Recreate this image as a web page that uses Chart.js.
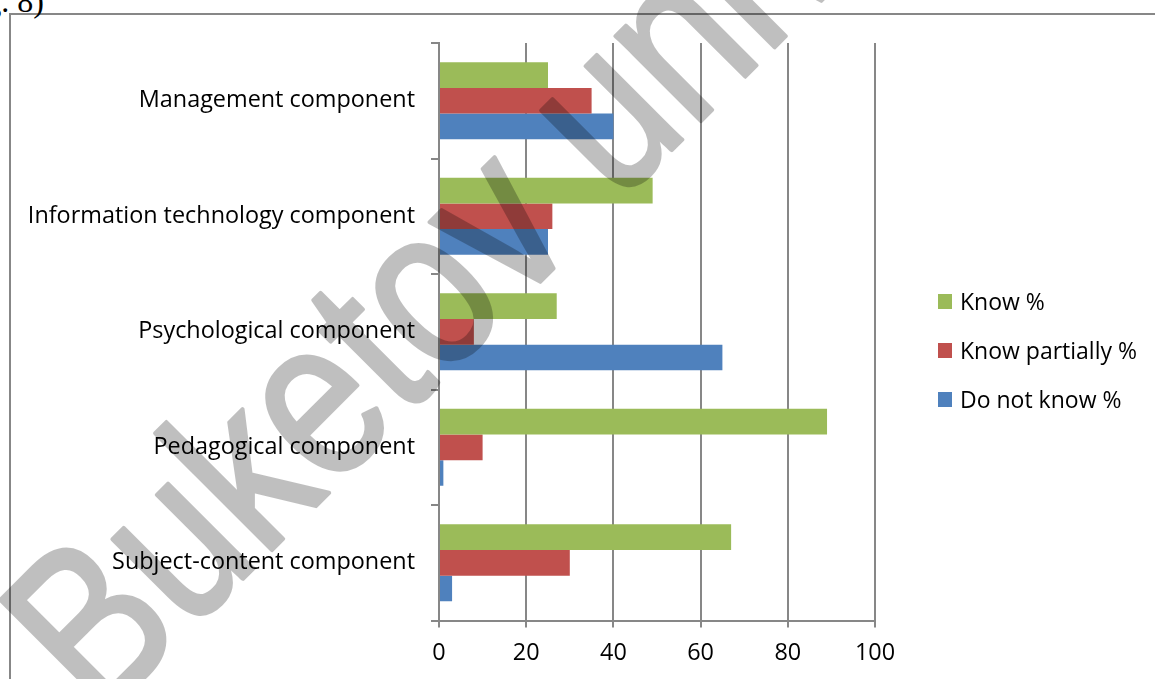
<!DOCTYPE html>
<html>
<head>
<meta charset="utf-8">
<script src="https://cdn.jsdelivr.net/npm/chart.js@4/dist/chart.umd.min.js"></script>
<style>
  html, body { margin: 0; padding: 0; background: #ffffff; overflow: hidden; }
  #page { position: relative; width: 1155px; height: 679px; overflow: hidden; }
  #frame { position: absolute; left: 9px; top: 13px; width: 1200px; height: 700px;
           border-left: 2px solid #878787; border-top: 2px solid #878787; }
  #caption { position: absolute; left: -200px; width: 244px; top: -15px; text-align: right;
             font-family: "Liberation Serif", serif; font-size: 32px; line-height: 32px; color: #000; }
  #chart { position: absolute; left: 0; top: 0; }
  #legend { position: absolute; left: 938px; top: 0; font-family: "Open Sans", sans-serif;
            font-size: 23px; color: #000; }
  .item { position: absolute; left: 0; white-space: nowrap; height: 30px; line-height: 30px; }
  .swatch { position: absolute; left: 0; top: 8px; width: 14px; height: 15px; }
  .name { position: absolute; left: 22px; top: 0; }
</style>
</head>
<body>
<div id="page">
  <div id="frame"></div>
  <div id="caption">(Fig. 8)</div>
  <canvas id="chart" width="1155" height="679"></canvas>
  <div id="legend"></div>
</div>
<script>
// Survey categories, listed top to bottom
const categories = [
  'Management component',
  'Information technology component',
  'Psychological component',
  'Pedagogical component',
  'Subject-content component'
];

// Share of respondents per answer, %
const knowPct = [25, 49, 27, 89, 67];
const knowPartiallyPct = [35, 26, 8, 10, 30];
const doNotKnowPct = [40, 25, 65, 1, 3];

const seriesNames = ['Know %', 'Know partially %', 'Do not know %'];
const seriesColors = ['#9BBB59', '#C0504D', '#4F81BD'];

const xTicks = [0, 20, 40, 60, 80, 100];

const axisGrey = '#878787';
const labelFont = { family: '"Open Sans", sans-serif', size: 23.4 };
const xLabelFont = { family: '"Open Sans", sans-serif', size: 23.4, lineHeight: 1.0 };

// Diagonal grey watermark painted over the finished chart.
// The glyphs are drawn solid on a scratch canvas, then laid on with one alpha
// so that the fill and the thickening stroke do not stack.
const watermark = {
  id: 'watermark',
  afterDraw(chart) {
    const off = document.createElement('canvas');
    off.width = chart.width;
    off.height = chart.height;
    const o = off.getContext('2d');
    o.translate(100, 722);
    o.rotate(-Math.PI / 4);
    o.scale(0.825, 1);
    o.font = '228px "Liberation Sans", sans-serif';
    o.fillStyle = '#000';
    o.strokeStyle = '#000';
    o.lineWidth = 4;
    o.lineJoin = 'round';
    o.textBaseline = 'alphabetic';
    o.fillText('Buketov university', 0, 0);
    o.strokeText('Buketov university', 0, 0);
    const ctx = chart.ctx;
    ctx.save();
    ctx.globalAlpha = 0.25;
    ctx.drawImage(off, 0, 0);
    ctx.restore();
  }
};

const values = [knowPct, knowPartiallyPct, doNotKnowPct];

const chart = new Chart(document.getElementById('chart'), {
  type: 'bar',
  data: {
    labels: categories,
    datasets: seriesNames.map((name, i) => ({
      label: name,
      data: values[i],
      backgroundColor: seriesColors[i],
      borderWidth: 0,
      categoryPercentage: 0.667,
      barPercentage: 1.0
    }))
  },
  options: {
    indexAxis: 'y',
    responsive: false,
    animation: false,
    layout: { padding: { left: 0, top: 43, right: 280, bottom: 0 } },
    plugins: {
      legend: { display: false },
      tooltip: { enabled: false }
    },
    scales: {
      x: {
        min: 0,
        max: 100,
        afterBuildTicks(scale) { scale.ticks = xTicks.map(v => ({ value: v })); },
        grid: { color: axisGrey, lineWidth: 2, tickLength: 7, drawTicks: true },
        border: { color: axisGrey, width: 2 },
        ticks: { color: '#000', font: xLabelFont, padding: 14 }
      },
      y: {
        afterFit(scale) { scale.width = 439; },
        grid: { drawOnChartArea: false, color: axisGrey, lineWidth: 2, tickLength: 8 },
        border: { color: axisGrey, width: 2 },
        ticks: { color: '#000', font: labelFont, padding: 16 }
      }
    }
  },
  plugins: [watermark]
});

// Legend built from the chart's own datasets
const legendEl = document.getElementById('legend');
const legendCenters = [301, 350, 399];
chart.data.datasets.forEach((ds, i) => {
  const item = document.createElement('div');
  item.className = 'item';
  item.style.top = (legendCenters[i] - 15) + 'px';
  const sw = document.createElement('div');
  sw.className = 'swatch';
  sw.style.background = ds.backgroundColor;
  const nm = document.createElement('div');
  nm.className = 'name';
  nm.textContent = ds.label;
  item.appendChild(sw);
  item.appendChild(nm);
  legendEl.appendChild(item);
});
</script>
</body>
</html>
